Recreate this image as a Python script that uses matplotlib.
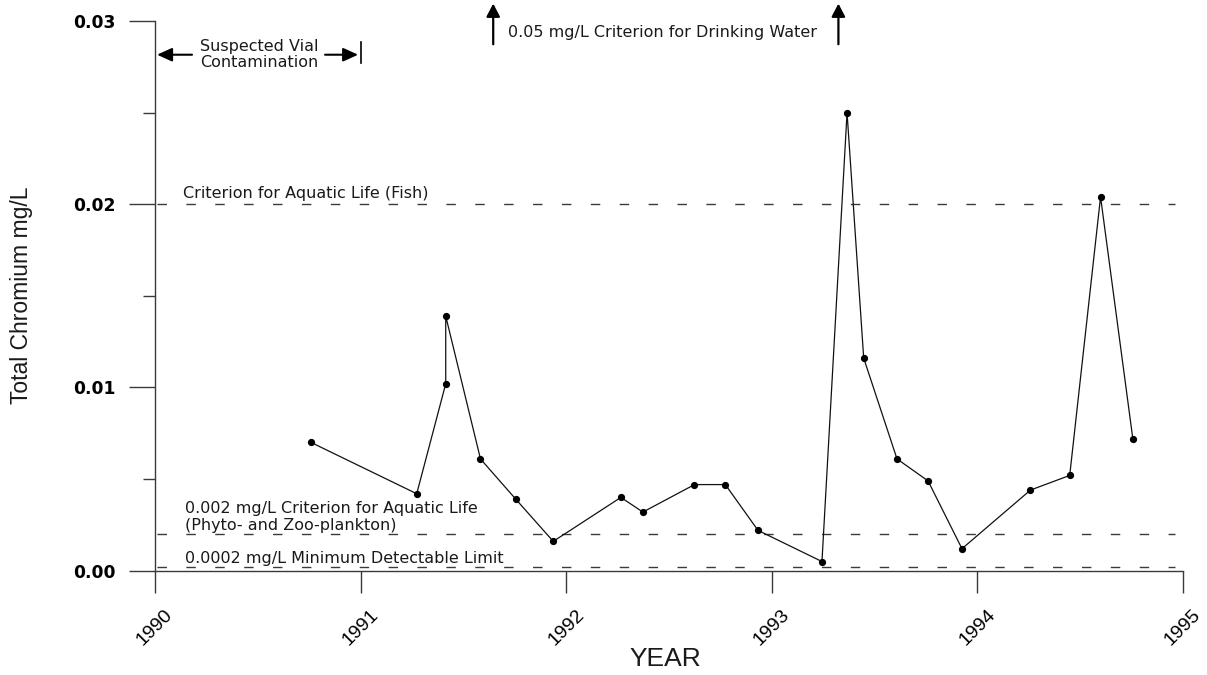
import numpy as np
import matplotlib
matplotlib.use("Agg")
import matplotlib.pyplot as plt

plt.rcParams['font.family'] = ['Liberation Sans', 'DejaVu Sans']

# sampling dates (decimal year) and total chromium (mg/L)
years = [1990.759, 1991.273, 1991.414, 1991.414, 1991.583, 1991.755, 1991.937,
         1992.266, 1992.373, 1992.624, 1992.774, 1992.933, 1993.244, 1993.366,
         1993.447, 1993.609, 1993.760, 1993.925, 1994.258, 1994.449, 1994.599,
         1994.756]
chromium = [0.0070, 0.0042, 0.0102, 0.0139, 0.0061, 0.0039, 0.0016,
            0.0040, 0.0032, 0.0047, 0.0047, 0.0022, 0.0005, 0.0250,
            0.0116, 0.0061, 0.0049, 0.0012, 0.0044, 0.0052, 0.0204,
            0.0072]

# reference criteria
crit_fish = 0.02
crit_plankton = 0.002
detect_limit = 0.0002

xticks = [1990, 1991, 1992, 1993, 1994, 1995]
yticks = [0.00, 0.01, 0.02, 0.03]
yticklabels = ['0.00', '0.01', '0.02', '0.03']
yminor = [0.005, 0.015, 0.025]

axis_col = '#3a3a3a'
txt_col = '#1a1a1a'
ann_font = dict(family='DejaVu Sans', fontsize=11.5, color=txt_col)

fig = plt.figure(figsize=(12.07, 6.75), dpi=100)
ax = fig.add_axes([155 / 1207, 104.3 / 675, 1028 / 1207, 549.7 / 675])

ax.set_xlim(1990, 1995)
ax.set_ylim(0, 0.03)

# dashed criterion lines
dash_lw = 1.0
for lev in (crit_fish, crit_plankton, detect_limit):
    ax.plot([1990.01, 1994.96], [lev, lev], color=axis_col, lw=dash_lw,
            dashes=(6.8 / dash_lw, 14 / dash_lw))

# data series
ax.plot(years, chromium, color='#111111', lw=0.9, marker='o', ms=4.2,
        mfc='black', mec='black', zorder=3)

# criterion labels
ax.annotate('Criterion for Aquatic Life (Fish)', xy=(1990.137, crit_fish),
            xytext=(0, 2), textcoords='offset points', va='bottom', ha='left',
            **ann_font)
ax.annotate('0.002 mg/L Criterion for Aquatic Life\n(Phyto- and Zoo-plankton)',
            xy=(1990.146, crit_plankton), xytext=(0, 1), textcoords='offset points',
            va='bottom', ha='left', linespacing=1.12, **ann_font)
ax.annotate('0.0002 mg/L Minimum Detectable Limit', xy=(1990.146, detect_limit),
            xytext=(0, 0.5), textcoords='offset points', va='bottom', ha='left',
            **ann_font)

# suspected contamination span
side_arrow = dict(arrowstyle='-|>,head_length=0.75,head_width=0.34',
                  color='black', lw=1.5, mutation_scale=12, shrinkA=0, shrinkB=0)
ax.annotate('', xy=(1990.01, 0.02816), xytext=(1990.18, 0.02816),
            arrowprops=side_arrow, annotation_clip=False)
ax.annotate('', xy=(1990.988, 0.02816), xytext=(1990.827, 0.02816),
            arrowprops=side_arrow, annotation_clip=False)
ax.plot([1991.0, 1991.0], [0.02773, 0.02888], color='black', lw=1.2,
        clip_on=False)
ax.text(1990.505, 0.02816, 'Suspected Vial\nContamination', ha='center',
        va='center', linespacing=1.1, **ann_font)

# drinking water criterion is off the scale
up_arrow = dict(arrowstyle='-|>,head_length=0.65,head_width=0.34',
                color='black', lw=1.6, mutation_scale=12, shrinkA=0, shrinkB=0)
for xa in (1991.645, 1993.324):
    ax.annotate('', xy=(xa, 0.03095), xytext=(xa, 0.02873),
                arrowprops=up_arrow, annotation_clip=False)
ax.text(1991.715, 0.02935, '0.05 mg/L Criterion for Drinking Water', ha='left',
        va='center', **ann_font)

# axes styling
for side in ('top', 'right'):
    ax.spines[side].set_visible(False)
for side in ('left', 'bottom'):
    ax.spines[side].set_color(axis_col)
    ax.spines[side].set_linewidth(1.0)

ax.set_xticks(xticks)
ax.set_xticklabels([str(y) for y in xticks], rotation=45, ha='center',
                   fontsize=14)
ax.tick_params(axis='x', length=15.8, width=1.0, color=axis_col, pad=10,
               direction='out')

ax.set_yticks(yticks)
ax.set_yticklabels(yticklabels, family='DejaVu Sans', fontweight='bold',
                   fontsize=12.3)
ax.set_yticks(yminor, minor=True)
ax.tick_params(axis='y', which='major', length=18.7, width=1.0, color=axis_col,
               pad=10)
ax.tick_params(axis='y', which='minor', length=8.6, width=1.0, color=axis_col)

fig.text(22 / 1207, 1 - 295 / 675, 'Total Chromium mg/L', rotation=90,
         ha='center', va='center', fontsize=16.5, color=txt_col)
fig.text(665 / 1207, 1 - 659 / 675, 'YEAR', ha='center', va='center',
         fontsize=19, color=txt_col)

fig.savefig('out.png', dpi=100)
